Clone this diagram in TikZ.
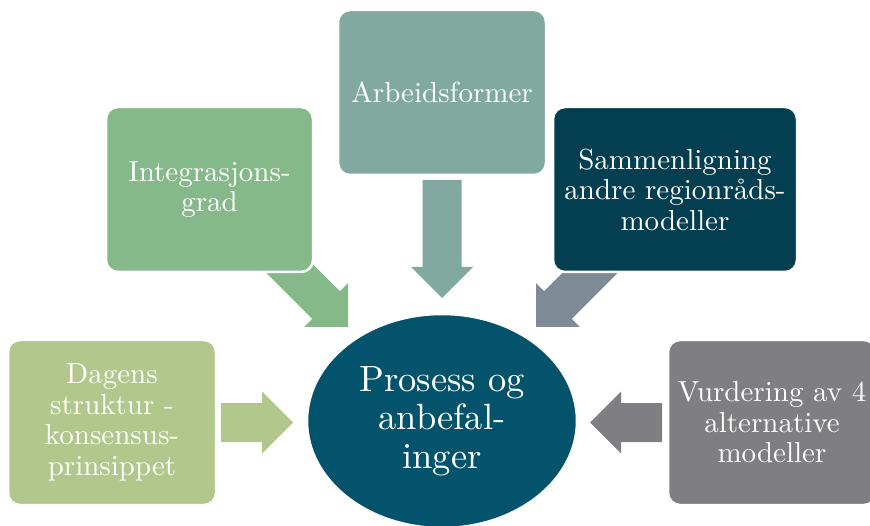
\documentclass[tikz,border=0pt]{standalone}
\usepackage{fontspec}
\setmainfont{lmroman10-regular.otf}
\usetikzlibrary{calc,shapes.geometric}

\definecolor{sage}{HTML}{82A9A0}
\definecolor{leaf}{HTML}{86B98A}
\definecolor{lime}{HTML}{B2C78B}
\definecolor{deepteal}{HTML}{033F50}
\definecolor{stone}{HTML}{7F7E83}
\definecolor{slate}{HTML}{7E8A96}
\definecolor{ocean}{HTML}{03536C}

\tikzset{
  card/.style={rectangle, rounded corners=12pt, draw=white, line width=2.5pt,
    text=white, align=center, inner sep=0pt, minimum height=165pt,
    font=\fontsize{29}{30.5}\selectfont},
  hub/.style={ellipse, draw=white, line width=2.5pt, fill=ocean, text=white,
    align=center, inner sep=0pt, minimum width=270pt, minimum height=214pt,
    font=\fontsize{36.5}{38.5}\selectfont},
}

% block arrow: colour, start, tip, id  (shaft half width 19.5, head 31 x 31)
\newcommand\blockarrow[4]{%
  \coordinate (#4h) at ($(#3)!31pt!(#2)$);
  \fill[#1] ($(#2)!19.5pt!90:(#3)$) -- ($(#4h)!19.5pt!90:(#3)$)
    -- ($(#4h)!31pt!90:(#3)$) -- (#3) -- ($(#4h)!31pt!-90:(#3)$)
    -- ($(#4h)!19.5pt!-90:(#3)$) -- ($(#2)!19.5pt!-90:(#3)$) -- cycle;
}

\begin{document}
\begin{tikzpicture}[x=1pt,y=-1pt]
  \useasboundingbox (0,0) rectangle (870,526);

  % arrow end points
  \coordinate (aS) at (442,180);   \coordinate (aT) at (442,298);
  \coordinate (iS) at (277,256);   \coordinate (iT) at (348,327);
  \coordinate (sS) at (607,256);   \coordinate (sT) at (536,327);
  \coordinate (dS) at (221,422.5); \coordinate (dT) at (293,422.5);
  \coordinate (vS) at (662,422.5); \coordinate (vT) at (590,422.5);

  \blockarrow{sage}{aS}{aT}{a}
  \blockarrow{leaf}{iS}{iT}{i}
  \blockarrow{slate}{sS}{sT}{s}
  \blockarrow{lime}{dS}{dT}{d}
  \blockarrow{stone}{vS}{vT}{v}

  % boxes around the centre
  \node[card, fill=sage, minimum width=208pt] (arb) at (442,92.5) {Arbeidsformer};
  \node[card, fill=leaf, minimum width=207pt] (integ) at (209.5,189.5) {Integrasjons-\\grad};
  \node[card, fill=deepteal, minimum width=244pt] (samm) at (675,189.5) {Sammenligning\\andre regionråds-\\modeller};
  \node[card, fill=lime, minimum width=208pt] (dag) at (112,422.5) {Dagens\\struktur -\\konsensus-\\prinsippet};
  \node[card, fill=stone, minimum width=208pt] (vurd) at (772,422.5) {Vurdering av 4\\alternative\\modeller};

  % centre
  \node[hub] (hub) at (442,421) {Prosess og\\anbefal-\\inger};
\end{tikzpicture}
\end{document}
